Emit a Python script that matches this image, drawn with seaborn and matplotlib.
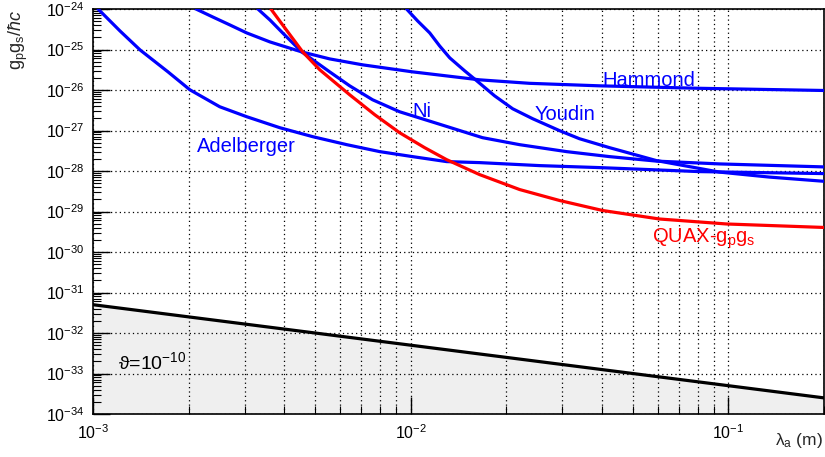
import numpy as np
import pandas as pd
import matplotlib
matplotlib.use("Agg")
import matplotlib.pyplot as plt
import matplotlib.ticker as mticker
import seaborn as sns

# curve values, stored as log10 of
# lambda_a (m) and of g_p g_s / hbar c
adel_lx = [-2.984, -2.915, -2.852, -2.764, -2.695, -2.601, -2.516, -2.412, -2.308, -2.201,
           -2.097, -1.994, -1.887, -1.783, -1.594, -1.406, -1.091, -0.699]
adel_ly = [-24.0, -24.542, -25.010, -25.552, -25.995, -26.414, -26.660, -26.931, -27.153, -27.350,
           -27.522, -27.645, -27.768, -27.793, -27.867, -27.916, -28.015, -28.064]

hamm_lx = [-2.676, -2.623, -2.569, -2.516, -2.443, -2.343, -2.255, -2.151, -1.994, -1.783,
           -1.626, -1.406, -1.091, -0.699]
hamm_ly = [-24.0, -24.197, -24.394, -24.591, -24.813, -25.059, -25.232, -25.379, -25.552, -25.749,
           -25.835, -25.897, -25.958, -26.012]

ni_lx = [-2.481, -2.443, -2.403, -2.343, -2.255, -2.192, -2.120, -2.035, -1.909, -1.774,
         -1.657, -1.509, -1.374, -1.226, -1.028, -0.699]
ni_ly = [-24.0, -24.271, -24.591, -25.059, -25.552, -25.897, -26.241, -26.537, -26.845, -27.177,
         -27.350, -27.522, -27.645, -27.756, -27.825, -27.899]

youd_lx = [-2.013, -1.978, -1.940, -1.909, -1.877, -1.830, -1.792, -1.736, -1.679, -1.616,
           -1.531, -1.469, -1.374, -1.226, -1.028, -0.871, -0.699]
youd_ly = [-24.0, -24.296, -24.591, -24.911, -25.207, -25.527, -25.773, -26.143, -26.463, -26.709,
           -27.005, -27.202, -27.424, -27.744, -28.027, -28.150, -28.254]

quax_lx = [-2.440, -2.396, -2.340, -2.286, -2.192, -2.113, -2.035, -1.956, -1.887, -1.783,
           -1.657, -1.531, -1.396, -1.217, -1.006, -0.699]
quax_ly = [-24.0, -24.468, -25.059, -25.502, -26.118, -26.611, -27.054, -27.424, -27.719, -28.089,
           -28.458, -28.729, -28.975, -29.185, -29.308, -29.394]

theta_x = [1e-3, 0.2]
theta_y = [5.0e-32, 2.5e-34]

x_ticks = [1e-3, 1e-2, 1e-1]
y_ticks = [10.0 ** e for e in range(-34, -23)]

sns.set_style("ticks")
plt.rcParams["font.family"] = ["Liberation Sans", "DejaVu Sans"]
plt.rcParams["mathtext.fontset"] = "custom"
plt.rcParams["mathtext.rm"] = "Liberation Sans"
plt.rcParams["mathtext.it"] = "Liberation Sans:italic"
plt.rcParams["mathtext.bf"] = "Liberation Sans:bold"

fig = plt.figure(figsize=(8.25, 4.57), dpi=100)
ax = fig.add_axes([93 / 825, 1 - 414 / 457, 731 / 825, 405 / 457])
ax.set_xscale("log")
ax.set_yscale("log")

# shaded theta region
ax.fill_between(theta_x, theta_y, 1e-34, color="#efefef", lw=0, zorder=1)

blue = "#0000ff"
curves = [
    (10 ** np.array(adel_lx), 10 ** np.array(adel_ly), blue),
    (10 ** np.array(hamm_lx), 10 ** np.array(hamm_ly), blue),
    (10 ** np.array(ni_lx), 10 ** np.array(ni_ly), blue),
    (10 ** np.array(youd_lx), 10 ** np.array(youd_ly), blue),
    (10 ** np.array(quax_lx), 10 ** np.array(quax_ly), "#ff0000"),
    (theta_x, theta_y, "black"),
]
for cx, cy, col in curves:
    df = pd.DataFrame({"x": cx, "y": cy})
    sns.lineplot(data=df, x="x", y="y", ax=ax, color=col, lw=2.3,
                 estimator=None, sort=False, zorder=3,
                 solid_joinstyle="round", solid_capstyle="round")

ax.set_xlim(1e-3, 0.2)
ax.set_ylim(1e-34, 1e-24)
ax.set_xlabel("")
ax.set_ylabel("")

x_minor = [m * 10.0 ** e for e in (-3, -2, -1) for m in range(2, 10) if m * 10.0 ** e <= 0.2]
y_minor = [m * 10.0 ** e for e in range(-34, -24) for m in range(2, 10)]
ax.xaxis.set_major_locator(mticker.FixedLocator(x_ticks))
ax.xaxis.set_minor_locator(mticker.FixedLocator(x_minor))
ax.xaxis.set_major_formatter(mticker.LogFormatterSciNotation())
ax.xaxis.set_minor_formatter(mticker.NullFormatter())
ax.yaxis.set_major_locator(mticker.FixedLocator(y_ticks))
ax.yaxis.set_minor_locator(mticker.FixedLocator(y_minor))
ax.yaxis.set_major_formatter(mticker.LogFormatterSciNotation())
ax.yaxis.set_minor_formatter(mticker.NullFormatter())

ax.tick_params(axis="both", which="both", direction="in", labelsize=11.5, colors="black")
ax.tick_params(axis="y", which="major", length=12, width=1, pad=6)
ax.tick_params(axis="y", which="minor", length=6, width=0.8)
ax.tick_params(axis="x", which="major", length=12, width=1, pad=7)
ax.tick_params(axis="x", which="minor", length=6, width=0.8)

ax.set_axisbelow("line")
ax.grid(True, axis="x", which="both", color="black", linestyle=(0, (1, 2.5)), lw=0.9)
ax.grid(True, axis="y", which="major", color="black", linestyle=(0, (1, 2.5)), lw=0.9)
for s in ax.spines.values():
    s.set_color("black")
    s.set_linewidth(1.2)

ax.text(0.0402, 1.27e-26, "Hammond", color=blue, fontsize=14.5, ha="left", va="baseline")
ax.text(0.0101, 2.1e-27, "Ni", color=blue, fontsize=14.5, ha="left", va="baseline")
ax.text(0.0245, 1.77e-27, "Youdin", color=blue, fontsize=14.5, ha="left", va="baseline")
ax.text(2.12e-3, 2.9e-28, "Adelberger", color=blue, fontsize=14.5, ha="left", va="baseline")
ax.text(0.0577, 1.7e-30, r"QUAX-g$_\mathrm{p}$g$_\mathrm{s}$", color="#ff0000",
        fontsize=14.5, ha="left", va="baseline")
ax.text(1.2e-3, 1.28e-33, r"ϑ=10$^{\mathrm{-10}}$", color="black", fontsize=14,
        ha="left", va="baseline")

fig.text(18 / 825, 1 - 10 / 457, r"g$_\mathrm{p}$g$_\mathrm{s}$/$ħc$", rotation=90,
         ha="center", va="top", fontsize=13)
fig.text(823 / 825, 1 - 441 / 457, r"λ$_\mathrm{a}$ (m)", ha="right", va="center", fontsize=12.5)

fig.savefig("out.png", dpi=100)
